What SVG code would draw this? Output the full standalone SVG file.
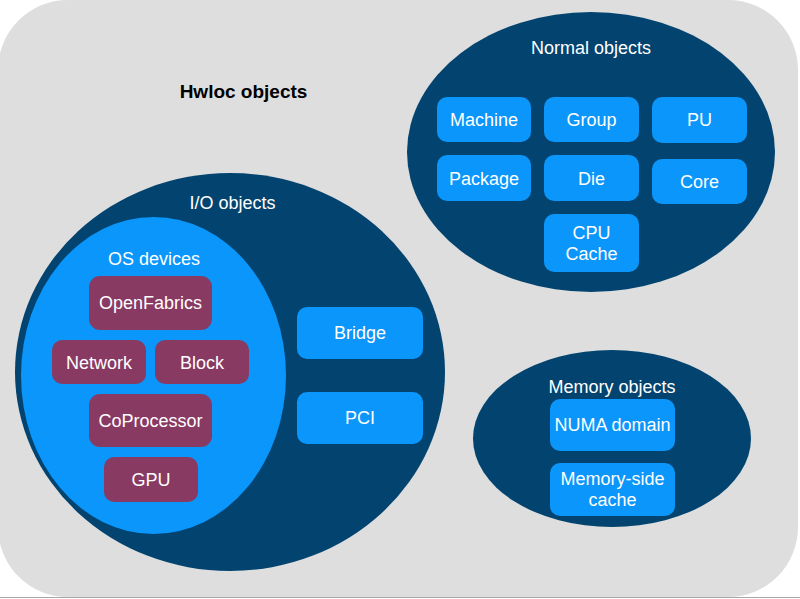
<svg xmlns="http://www.w3.org/2000/svg" width="800" height="599" viewBox="0 0 800 599">
<style>
  text { font-family: "Liberation Sans", Arial, sans-serif; text-anchor: middle; fill: #ffffff; }
  .hdr { font-size: 18px; }
  .lbl { font-size: 18px; }
  .title { font-size: 19px; font-weight: bold; fill: #000000; }
  .dark { fill: #02446F; }
  .blue { fill: #0A96FA; }
  .purple { fill: #893A63; }
</style>
<rect id="background" x="-2" y="0" width="800" height="597" rx="70" ry="70" fill="#DEDEDE"/>
<line x1="0" y1="597.5" x2="800" y2="597.5" stroke="#A8A8A8" stroke-width="1"/>
<g id="hwloc-title"><text class="title" x="243.5" y="98">Hwloc objects</text></g>

<g id="normal-objects">
  <ellipse class="dark" cx="591" cy="152" rx="184" ry="140"/>
  <text class="hdr" x="591" y="54">Normal objects</text>
</g>
<g id="machine"><rect class="blue" x="437" y="97" width="94" height="45" rx="10"/><text class="lbl" x="484" y="126">Machine</text></g>
<g id="group"><rect class="blue" x="544" y="97" width="95" height="45" rx="10"/><text class="lbl" x="591.5" y="126">Group</text></g>
<g id="pu"><rect class="blue" x="652" y="97" width="95" height="46" rx="10"/><text class="lbl" x="699.5" y="126">PU</text></g>
<g id="package"><rect class="blue" x="437" y="155" width="94" height="46" rx="10"/><text class="lbl" x="484" y="185">Package</text></g>
<g id="die"><rect class="blue" x="544" y="155" width="95" height="46" rx="10"/><text class="lbl" x="591.5" y="185">Die</text></g>
<g id="core"><rect class="blue" x="652" y="159" width="95" height="45" rx="10"/><text class="lbl" x="699.5" y="188">Core</text></g>
<g id="cpu-cache"><rect class="blue" x="544" y="214" width="95" height="58" rx="10"/><text class="lbl" x="591.5" y="239">CPU</text><text class="lbl" x="591.5" y="260">Cache</text></g>

<g id="io-objects">
  <ellipse class="dark" cx="230" cy="372" rx="215" ry="199"/>
  <text class="hdr" x="232.5" y="209">I/O objects</text>
</g>
<g id="os-devices">
  <ellipse class="blue" cx="153.5" cy="375.5" rx="132.5" ry="158.5"/>
  <text class="hdr" x="154" y="265">OS devices</text>
</g>
<g id="openfabrics"><rect class="purple" x="89" y="276" width="123" height="54" rx="11"/><text class="lbl" x="150.5" y="309">OpenFabrics</text></g>
<g id="network"><rect class="purple" x="52" y="340" width="94" height="44" rx="10"/><text class="lbl" x="99" y="368.5">Network</text></g>
<g id="block"><rect class="purple" x="155" y="340" width="94" height="44" rx="10"/><text class="lbl" x="202" y="368.5">Block</text></g>
<g id="coprocessor"><rect class="purple" x="89" y="394" width="123" height="53" rx="11"/><text class="lbl" x="150.5" y="427">CoProcessor</text></g>
<g id="gpu"><rect class="purple" x="104" y="457" width="94" height="45" rx="10"/><text class="lbl" x="151" y="486">GPU</text></g>
<g id="bridge"><rect class="blue" x="297" y="307" width="126" height="52" rx="10"/><text class="lbl" x="360" y="339">Bridge</text></g>
<g id="pci"><rect class="blue" x="297" y="392" width="126" height="52" rx="10"/><text class="lbl" x="360" y="424">PCI</text></g>

<g id="memory-objects">
  <ellipse class="dark" cx="612" cy="438.5" rx="139" ry="88.5"/>
  <text class="hdr" x="612" y="393">Memory objects</text>
</g>
<g id="numa-domain"><rect class="blue" x="550" y="399" width="125" height="52" rx="10"/><text class="lbl" x="612.5" y="431">NUMA domain</text></g>
<g id="memory-side-cache"><rect class="blue" x="550" y="463" width="125" height="53" rx="10"/><text class="lbl" x="612.5" y="485">Memory-side</text><text class="lbl" x="612.5" y="506">cache</text></g>

<g id="connectors"></g>
</svg>
